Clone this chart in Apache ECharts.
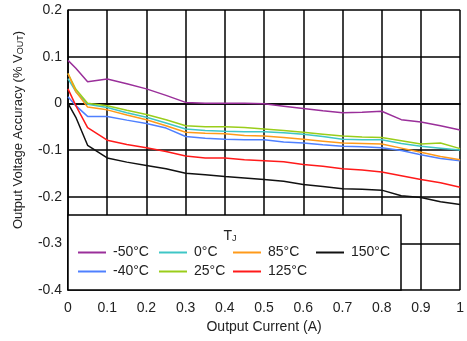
<!DOCTYPE html>
<html>
<head>
<meta charset="utf-8">
<script src="https://cdn.jsdelivr.net/npm/echarts@6/dist/echarts.min.js"></script>
<style>
  html, body { margin: 0; padding: 0; background: #fff; }
  #chart { width: 467px; height: 341px; }
</style>
</head>
<body>
<div id="chart"></div>
<script>
// Output current sample points (A)
var current = [0, 0.02, 0.05, 0.1, 0.15, 0.2, 0.25, 0.3, 0.35, 0.4, 0.45, 0.5,
               0.55, 0.6, 0.65, 0.7, 0.75, 0.8, 0.85, 0.9, 0.95, 1.0];

// Output voltage accuracy (% VOUT) per junction temperature
var tjMinus50 = [0.092, 0.075, 0.046, 0.052, 0.042, 0.031, 0.017, 0.002, 0.0, 0.0, 0.0, -0.001,
                 -0.006, -0.011, -0.016, -0.020, -0.019, -0.017, -0.035, -0.040, -0.048, -0.057];
var tjMinus40 = [0.014, -0.005, -0.028, -0.028, -0.036, -0.043, -0.053, -0.071, -0.075, -0.077, -0.078, -0.078,
                 -0.083, -0.085, -0.089, -0.092, -0.093, -0.095, -0.101, -0.110, -0.118, -0.123];
var tj0 = [0.053, 0.025, -0.002, -0.009, -0.020, -0.030, -0.042, -0.055, -0.058, -0.060, -0.061, -0.061,
           -0.063, -0.066, -0.071, -0.077, -0.078, -0.078, -0.086, -0.092, -0.096, -0.100];
var tj25 = [0.064, 0.030, 0.000, -0.005, -0.015, -0.024, -0.035, -0.048, -0.050, -0.050, -0.052, -0.055,
            -0.058, -0.062, -0.066, -0.070, -0.072, -0.073, -0.080, -0.087, -0.085, -0.097];
var tj85 = [0.064, 0.025, -0.008, -0.014, -0.025, -0.035, -0.048, -0.062, -0.064, -0.065, -0.069, -0.070,
            -0.073, -0.077, -0.081, -0.085, -0.086, -0.087, -0.096, -0.105, -0.114, -0.121];
var tj125 = [0.031, -0.005, -0.052, -0.079, -0.088, -0.095, -0.103, -0.113, -0.117, -0.117, -0.121, -0.123,
             -0.125, -0.131, -0.135, -0.140, -0.143, -0.147, -0.155, -0.163, -0.170, -0.180];
var tj150 = [0.000, -0.030, -0.090, -0.117, -0.126, -0.133, -0.140, -0.150, -0.153, -0.157, -0.160, -0.163,
             -0.167, -0.174, -0.178, -0.183, -0.184, -0.186, -0.198, -0.202, -0.211, -0.217];

var seriesNames = ['-50°C', '-40°C', '0°C', '25°C', '85°C', '125°C', '150°C'];
var seriesValues = [tjMinus50, tjMinus40, tj0, tj25, tj85, tj125, tj150];
var seriesColors = ['#9a2f9a', '#4f80ff', '#3fc6c6', '#9acd1a', '#ff9a1a', '#ff1a1a', '#111111'];

var FONT = '"Liberation Sans", Arial, sans-serif';
var TEXT = '#222';

function pairs(ys) {
  return current.map(function (x, i) { return [x, ys[i]]; });
}

var series = seriesNames.map(function (name, i) {
  return {
    name: name,
    type: 'line',
    data: pairs(seriesValues[i]),
    symbol: 'none',
    z: 3,
    lineStyle: { color: seriesColors[i], width: 1.5 },
    itemStyle: { color: seriesColors[i] }
  };
});

// legend laid out in four columns inside the boxed area; thin rect keys act as line samples
function legendColumn(names, left) {
  return {
    data: names,
    orient: 'vertical',
    left: left,
    top: 245,
    icon: 'rect',
    itemWidth: 28,
    itemHeight: 2,
    itemGap: 4,
    padding: 0,
    z: 20,
    textStyle: { fontFamily: FONT, fontSize: 14, lineHeight: 15, color: TEXT, padding: [0, 0, 0, 2] },
    selectedMode: false
  };
}

var chart = echarts.init(document.getElementById('chart'), null, { renderer: 'canvas' });
chart.setOption({
  animation: false,
  backgroundColor: '#fff',
  grid: { left: 68, right: 1, top: 10, bottom: 51 },
  xAxis: {
    type: 'value',
    min: 0, max: 1, interval: 0.1,
    name: 'Output Current (A)',
    nameLocation: 'middle',
    nameGap: 27,
    nameTextStyle: { fontFamily: FONT, fontSize: 14, color: TEXT },
    axisLine: { show: true, lineStyle: { color: '#000', width: 1.5 } },
    axisTick: { show: false },
    axisLabel: { fontFamily: FONT, fontSize: 14, color: TEXT, margin: 11 },
    splitLine: { show: true, lineStyle: { color: '#000', width: 1.5 } }
  },
  yAxis: {
    type: 'value',
    min: -0.4, max: 0.2, interval: 0.1,
    axisLine: { show: true, lineStyle: { color: '#000', width: 1.5 } },
    axisTick: { show: false },
    axisLabel: { fontFamily: FONT, fontSize: 14, color: TEXT, margin: 6 },
    splitLine: { show: true, lineStyle: { color: '#000', width: 1.5 } }
  },
  legend: [
    legendColumn(['-50°C', '-40°C'], 78),
    legendColumn(['0°C', '25°C'], 159),
    legendColumn(['85°C', '125°C'], 233),
    legendColumn(['150°C'], 316)
  ],
  graphic: [
    {
      type: 'rect',
      shape: { x: 68, y: 215, width: 333, height: 75 },
      style: { fill: '#fff', stroke: '#000', lineWidth: 1.5 },
      z: 10
    },
    {
      type: 'text',
      x: 230, y: 236,
      z: 11,
      style: {
        text: '{t|T}{s|J}',
        align: 'center',
        verticalAlign: 'middle',
        rich: {
          t: { fontFamily: FONT, fontSize: 14, fill: TEXT },
          s: { fontFamily: FONT, fontSize: 9, fill: TEXT, verticalAlign: 'bottom', padding: [6, 0, 0, 0] }
        }
      }
    },
    {
      type: 'text',
      x: 18, y: 130,
      rotation: Math.PI / 2,
      z: 11,
      style: {
        text: '{n|Output Voltage Accuracy (% V}{s|OUT}{n|)}',
        align: 'center',
        verticalAlign: 'middle',
        rich: {
          n: { fontFamily: FONT, fontSize: 13, fill: TEXT },
          s: { fontFamily: FONT, fontSize: 9, fill: TEXT, padding: [6, 0, 0, 0] }
        }
      }
    }
  ],
  series: series
});
</script>
</body>
</html>
